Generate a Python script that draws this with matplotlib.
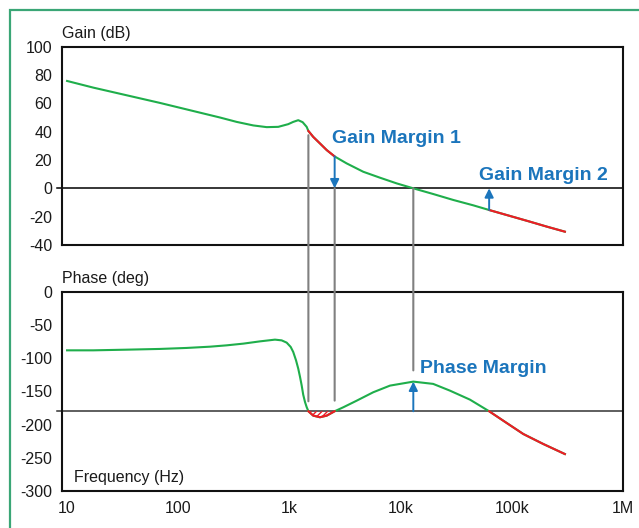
import numpy as np
import matplotlib
matplotlib.use("Agg")
import matplotlib.pyplot as plt
from matplotlib.patches import Rectangle, ConnectionPatch

plt.rcParams['font.family'] = ['Liberation Sans', 'DejaVu Sans']
plt.rcParams['axes.unicode_minus'] = False

# loop gain (Bode magnitude)
gain_freq = [10, 17.2, 34.3, 68.4, 136, 237, 335, 473, 624, 793, 975, 1081,
             1200, 1314, 1428, 1480, 1637, 1880, 2163, 2550, 3270, 4610, 6520,
             9200, 13000, 19600, 29700, 45000, 62500, 96200, 145000, 205600,
             300000]
gain_db = [75.8, 71.1, 65.7, 60.3, 54.6, 50.0, 46.9, 44.4, 43.2, 43.4, 45.3,
           46.9, 48.1, 46.7, 43.4, 40.5, 36.3, 31.7, 27.0, 22.5, 17.6, 11.7,
           7.5, 3.5, 0.0, -4.0, -8.2, -12.0, -15.3, -19.5, -23.5, -27.0, -30.6]

# loop phase
phase_freq = [10, 17.2, 34.3, 68.4, 119, 193, 272, 385, 543, 741, 851, 944,
              1026, 1081, 1146, 1200, 1245, 1288, 1330, 1380, 1428, 1480, 1637,
              1880, 2163, 2550, 3050, 4020, 5670, 8020, 13000, 19600, 27700,
              42000, 62500, 89800, 126700, 191900, 300000]
phase_deg = [-88.3, -88.3, -87.3, -86.2, -84.7, -82.8, -80.8, -78.2, -74.8,
             -72.2, -73.3, -76.7, -83.2, -90.7, -103.4, -115.9, -128.4, -141.1,
             -155.1, -166.1, -173.7, -180, -186.6, -189, -186.6, -180, -174,
             -164.1, -151.4, -141.4, -135.4, -138.8, -148.9, -162.5, -180,
             -197.6, -214.2, -229.3, -244.4]

# crossover frequencies
f_pc1 = 1480      # phase falls through -180
f_pc2 = 2550      # phase comes back above -180
f_gc = 13000      # gain crosses 0 dB
f_pc3 = 62500     # phase falls through -180 again

freq_ticks = [10, 100, 1e3, 1e4, 1e5, 1e6]
freq_labels = ['10', '100', '1k', '10k', '100k', '1M']

GREEN = '#1fae4b'
RED = '#ee1c25'
BLUE = '#1b75bc'
GRAY = '#808080'
TXT = '#1a1a1a'

fig = plt.figure(figsize=(6.39, 5.28), dpi=100)
ax1 = fig.add_axes([0.0970, 0.536, 0.878, 0.3756])
ax2 = fig.add_axes([0.0970, 0.0701, 0.878, 0.3775])

# green frame round the figure
fig.patches.append(Rectangle((10 / 639, -0.1), 1.2, 0.981 + 0.1, fill=False,
                             edgecolor='#3aa676', lw=1.6,
                             transform=fig.transFigure))


def unstable_mask(f):
    f = np.asarray(f)
    return ((f >= f_pc1) & (f <= f_pc2)) | (f >= f_pc3)


def draw_curve(ax, f, y):
    f = np.asarray(f, float)
    y = np.asarray(y, float)
    ax.plot(f, y, color=GREEN, lw=1.5, zorder=3)
    ax.plot(f, np.where(unstable_mask(f), y, np.nan), color=RED, lw=1.5,
            zorder=4)


for ax in (ax1, ax2):
    ax.set_xscale('log')
    ax.set_xlim(9, 1e6)
    ax.minorticks_off()
    for s in ax.spines.values():
        s.set_linewidth(1.5)
        s.set_color('#111111')
    ax.tick_params(length=0, labelsize=11.5, colors=TXT, pad=7)

ax1.set_ylim(-40, 100)
ax1.set_yticks(range(-40, 101, 20))
ax1.set_xticks([])
ax1.axhline(0, xmin=-0.008, color='black', lw=1.1, clip_on=False, zorder=2)
draw_curve(ax1, gain_freq, gain_db)
ax1.text(0.0, 1.03, 'Gain (dB)', transform=ax1.transAxes, fontsize=11.5,
         color=TXT, ha='left', va='bottom')

ax2.set_ylim(-300, 0)
ax2.set_yticks(range(-300, 1, 50))
ax2.set_xticks(freq_ticks)
ax2.set_xticklabels(freq_labels)
ax2.axhline(-180, xmin=-0.008, color='#333333', lw=1.1, clip_on=False,
            zorder=2)
draw_curve(ax2, phase_freq, phase_deg)
ax2.text(0.0, 1.03, 'Phase (deg)', transform=ax2.transAxes, fontsize=11.5,
         color=TXT, ha='left', va='bottom')
ax2.text(0.022, 0.03, 'Frequency (Hz)', transform=ax2.transAxes,
         fontsize=11.5, color=TXT, ha='left', va='bottom')

# hatched region where phase drops below -180
pf = np.asarray(phase_freq, float)
pd = np.asarray(phase_deg, float)
dip = (pf >= f_pc1) & (pf <= f_pc2)
ax2.fill_between(pf[dip], pd[dip], -180, facecolor='none', edgecolor=RED,
                 hatch='//////', lw=0, zorder=3)

# gray guide lines linking both plots
for f, top, bottom in [(f_pc1, 37.5, -165), (f_pc2, 0, -164), (f_gc, 0, -118.5)]:
    con = ConnectionPatch(xyA=(f, top), coordsA=ax1.transData,
                          xyB=(f, bottom), coordsB=ax2.transData,
                          color=GRAY, lw=1.5, zorder=1)
    fig.add_artist(con)

arrow = dict(arrowstyle='-|>', color=BLUE, lw=1.4, mutation_scale=13,
             shrinkA=0, shrinkB=0)
g_pc2 = np.interp(np.log10(f_pc2), np.log10(gain_freq), gain_db)
g_pc3 = np.interp(np.log10(f_pc3), np.log10(gain_freq), gain_db)
p_gc = np.interp(np.log10(f_gc), np.log10(phase_freq), phase_deg)

ax1.annotate('', xy=(f_pc2, 0), xytext=(f_pc2, g_pc2), arrowprops=arrow,
             zorder=5)
ax1.annotate('', xy=(f_pc3, 0), xytext=(f_pc3, g_pc3), arrowprops=arrow,
             zorder=5)
ax2.annotate('', xy=(f_gc, p_gc), xytext=(f_gc, -180), arrowprops=arrow,
             zorder=5)

bold = dict(fontsize=14, fontweight='bold', color=BLUE, ha='left',
            va='center')
ax1.text(2400, 35.4, 'Gain Margin 1', **bold)
ax1.text(50600, 9.4, 'Gain Margin 2', **bold)
ax2.text(14900, -115, 'Phase Margin', **bold)

fig.savefig('out.png', dpi=100)
